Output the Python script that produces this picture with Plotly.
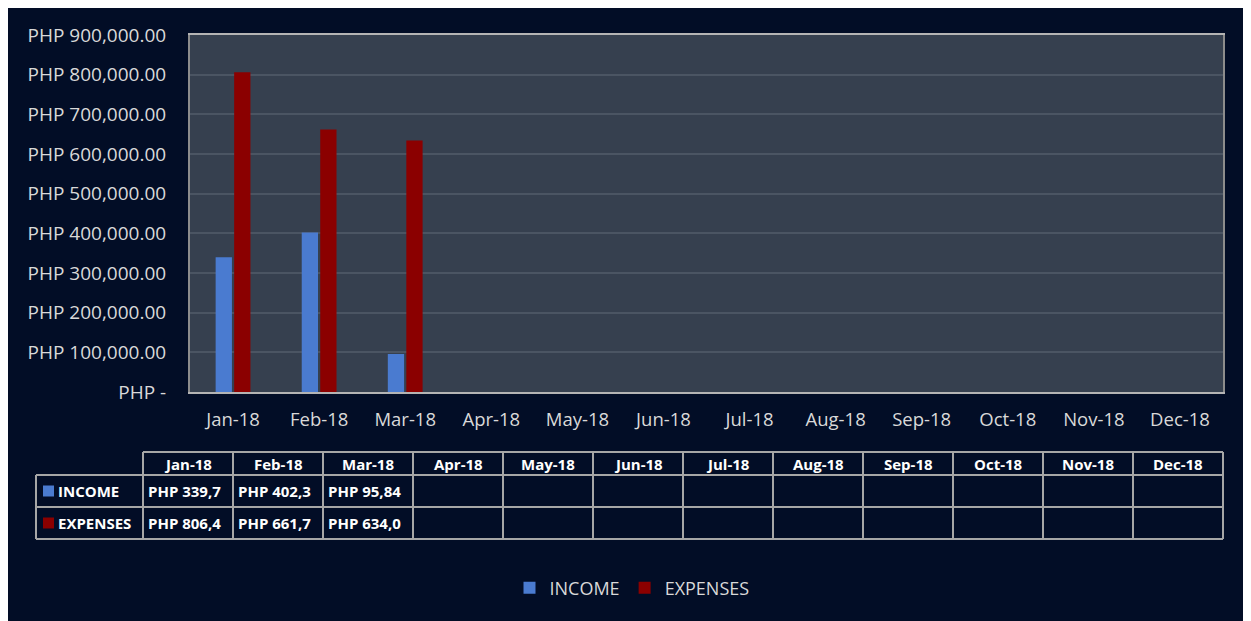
import plotly.graph_objects as go

# --- Data ---
months = ["Jan-18", "Feb-18", "Mar-18", "Apr-18", "May-18", "Jun-18",
          "Jul-18", "Aug-18", "Sep-18", "Oct-18", "Nov-18", "Dec-18"]
income = [339700, 402300, 95840, None, None, None, None, None, None, None, None, None]
expenses = [806400, 661700, 634000, None, None, None, None, None, None, None, None, None]
series_names = ["INCOME", "EXPENSES"]
y_ticks = [0, 100000, 200000, 300000, 400000, 500000, 600000, 700000, 800000, 900000]

# --- Styling ---
# the page body has an 8px margin, so the figure is a bit smaller than the window
OFF = 8
FW, FH = 1243, 613
BG = "#020d26"
PLOT_BG = "#36404f"
GRID = "#4b5563"
TEXT = "#d9d9d9"
INCOME_C = "#4a7bd0"
EXPENSE_C = "#8b0000"
TABLE_LINE = "#a6a6a6"
FONT = "Open Sans"
colors = [INCOME_C, EXPENSE_C]

# table geometry (screen pixels)
TBL_LEFT, LABEL_W, COL_W = 36, 107, 90
ROW_EDGES = [452, 475, 507, 539]


def peso(v):
    return "PHP -" if v == 0 else f"PHP {v:,.2f}"


def cell(v):
    # the source sheet clips the value inside the narrow cell
    return "" if v is None else f"PHP {v:,.2f}"[:9]


y_text = [peso(v) for v in y_ticks]


# screen pixel -> paper coords
def px(x):
    return (x - OFF) / FW


def py(y):
    return 1 - (y - OFF) / FH


fig = go.Figure()

for name, vals, c in zip(series_names, [income, expenses], colors):
    fig.add_trace(go.Bar(x=months, y=vals, name=name,
                         marker=dict(color=c, line=dict(width=0))))

# --- data table under the chart (shapes + annotations) ---
col_edges = [TBL_LEFT, TBL_LEFT + LABEL_W]
for _ in months:
    col_edges.append(col_edges[-1] + COL_W)
right = col_edges[-1]

shapes = []
line = dict(color=TABLE_LINE, width=2)


def hline(y, x0, x1):
    shapes.append(dict(type="line", xref="paper", yref="paper",
                       x0=px(x0), x1=px(x1), y0=py(y), y1=py(y), line=line))


def vline(x, y0, y1):
    shapes.append(dict(type="line", xref="paper", yref="paper",
                       x0=px(x), x1=px(x), y0=py(y0), y1=py(y1), line=line))


hline(ROW_EDGES[0], col_edges[1], right)
for y in ROW_EDGES[1:]:
    hline(y, TBL_LEFT, right)
vline(TBL_LEFT, ROW_EDGES[1], ROW_EDGES[-1])
for x in col_edges[1:]:
    vline(x, ROW_EDGES[0], ROW_EDGES[-1])

annotations = []
tfont = dict(family=FONT, size=15, color="white", weight="bold")
head_y = (ROW_EDGES[0] + ROW_EDGES[1]) / 2
for i, m in enumerate(months):
    xc = (col_edges[i + 1] + col_edges[i + 2]) / 2
    annotations.append(dict(xref="paper", yref="paper", x=px(xc), y=py(head_y),
                            text=m, showarrow=False, font=tfont,
                            xanchor="center", yanchor="middle"))

for r, (name, vals, c) in enumerate(zip(series_names, [income, expenses], colors)):
    yc = (ROW_EDGES[r + 1] + ROW_EDGES[r + 2]) / 2
    # colour key
    shapes.append(dict(type="rect", xref="paper", yref="paper",
                       x0=px(TBL_LEFT + 7), x1=px(TBL_LEFT + 18),
                       y0=py(yc + 5.5), y1=py(yc - 5.5),
                       fillcolor=c, line=dict(width=0)))
    annotations.append(dict(xref="paper", yref="paper", x=px(TBL_LEFT + 20), y=py(yc),
                            text=name, showarrow=False, font=tfont,
                            xanchor="left", yanchor="middle"))
    for i, v in enumerate(vals):
        if v is None:
            continue
        annotations.append(dict(xref="paper", yref="paper", x=px(col_edges[i + 1] + 3),
                                y=py(yc), text=cell(v), showarrow=False, font=tfont,
                                xanchor="left", yanchor="middle"))

fig.update_layout(
    width=FW,
    height=FH,
    margin=dict(l=0, r=0, t=0, b=0, autoexpand=False),
    paper_bgcolor=BG,
    plot_bgcolor=PLOT_BG,
    font=dict(family=FONT, color=TEXT, size=18),
    barmode="group",
    bargap=0.57,
    bargroupgap=0.12,
    showlegend=True,
    legend=dict(orientation="h", x=px(632), xanchor="center", y=py(588), yanchor="middle",
                font=dict(size=18, color=TEXT), bgcolor="rgba(0,0,0,0)"),
    xaxis=dict(
        domain=[px(190), px(1223)],
        automargin=False,
        showgrid=False,
        showline=True, linecolor="#b4b4b4", linewidth=2, mirror=True,
        ticks="", ticklabelstandoff=10,
        tickfont=dict(size=18.5, color=TEXT),
        fixedrange=True,
    ),
    yaxis=dict(
        domain=[py(392), py(35)],
        automargin=False,
        range=[0, 900000],
        tickvals=y_ticks,
        ticktext=y_text,
        showgrid=True, gridcolor=GRID, gridwidth=2,
        zeroline=False,
        showline=True, linecolor="#8c8c8c", linewidth=2, mirror=True,
        ticks="", ticklabelstandoff=18,
        tickfont=dict(size=19, color=TEXT),
        fixedrange=True,
    ),
    shapes=shapes,
    annotations=annotations,
)

fig.write_html("out.html")
